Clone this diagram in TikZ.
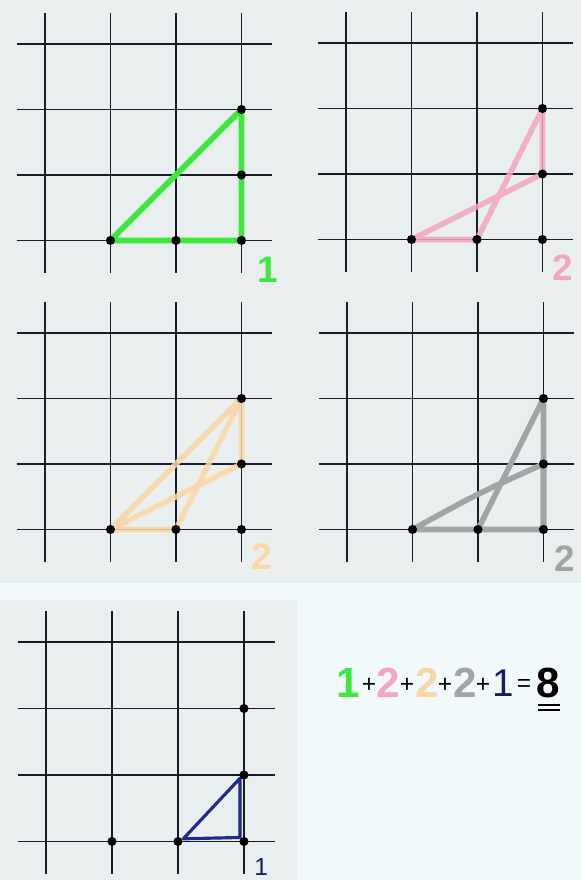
\documentclass[tikz,border=0pt]{standalone}
\usepackage{fontspec}
\setmainfont{Liberation Sans}
\usepackage{xcolor}
\definecolor{backdrop}{HTML}{F1F9FA}
\definecolor{paper}{HTML}{E9EFEF}
\definecolor{gridink}{HTML}{1A1A2A}
\definecolor{grn}{HTML}{3DE83D}
\definecolor{pnk}{HTML}{F4A6C0}
\definecolor{pch}{HTML}{FAD6A6}
\definecolor{gry}{HTML}{A4A4A6}
\definecolor{nvy}{HTML}{1E2A8C}
\definecolor{ink}{HTML}{14205E}

\tikzset{
  gridline/.style={line width=1pt, color=gridink},
  pen/.style={line width=3.2pt, line join=round, line cap=round},
  tally/.style={font=\bfseries\fontsize{21}{21}\selectfont, inner sep=0pt},
  sumdigit/.style={font=\bfseries\fontsize{24}{24}\selectfont, inner sep=0pt},
  plussign/.style={font=\fontsize{14}{14}\selectfont, inner sep=0pt},
}

\newcommand{\gridsheet}{%
  \foreach \k in {0,...,3} {
    \draw[gridline] (\k,-0.47) -- (\k,3.49);
    \draw[gridline] (-0.43,\k) -- (3.47,\k);
  }
  \coordinate (A) at (1,3);
  \coordinate (M) at (2,3);
  \coordinate (B) at (3,3);
  \coordinate (C) at (3,2);
  \coordinate (T) at (3,1);
}
\newcommand{\gridpoints}{%
  \foreach \p in {A,M,B,C,T} \fill (\p) circle[radius=2.6pt];
}

\begin{document}
\begin{tikzpicture}[x=0.02cm, y=-0.02cm]
    \fill[backdrop] (0,0) rectangle (581,880);
    \useasboundingbox (0,0) rectangle (581,880);
    \fill[paper] (0,0) rectangle (581,583);
    \fill[paper] (0,600) rectangle (297,880);

    % top left
    \begin{scope}[shift={(45,44)}, x=1.31cm, y=-1.31cm]
        \gridsheet
        \draw[pen, grn] (A) -- (T) -- (B) -- cycle;
        \gridpoints
        \node[tally, text=grn] (n1) at (3.4,3.45) {1};
    \end{scope}

    % top right
    \begin{scope}[shift={(346,43)}, x=1.31cm, y=-1.31cm]
        \gridsheet
        \draw[pen, pnk, opacity=0.85] (A) -- (M) -- (T) -- (C) -- cycle;
        \gridpoints
        \node[tally, text=pnk] (n2) at (3.31,3.43) {2};
    \end{scope}

    % middle left
    \begin{scope}[shift={(45,333)}, x=1.31cm, y=-1.31cm]
        \gridsheet
        \draw[pen, pch, opacity=0.85] (A) -- (T) -- (C) -- cycle;
        \draw[pen, pch, opacity=0.85] (A) -- (M) -- (T);
        \gridpoints
        \node[tally, text=pch] (n3) at (3.31,3.42) {2};
    \end{scope}

    % middle right
    \begin{scope}[shift={(347,333)}, x=1.31cm, y=-1.31cm]
        \gridsheet
        \draw[pen, gry] (A) .. controls (2,2.45) .. (C) -- (B) -- cycle;
        \draw[pen, gry] (M) -- (T) -- (B);
        \gridpoints
        \node[tally, text=gry] (n4) at (3.33,3.44) {2};
    \end{scope}

    % bottom left
    \begin{scope}[shift={(46,642)}, x=1.32cm, y=-1.33cm]
        \gridsheet
        \draw[line width=1.8pt, nvy, line join=round] ([shift={(0.08,-0.04)}]M) -- ([shift={(-0.06,0.05)}]C) -- ([shift={(-0.06,-0.06)}]B) -- cycle;
        \gridpoints
        \node[font=\fontsize{14}{14}\selectfont, inner sep=0pt, text=ink] (n5) at (3.26,3.38) {1};
    \end{scope}

    % the sum
    \node[sumdigit, text=grn] (s1) at (348,683) {1};
    \node[plussign] (p1) at (369,685) {+};
    \node[sumdigit, text=pnk] (s2) at (388,683) {2};
    \node[plussign] (p2) at (407,685) {+};
    \node[sumdigit, text=pch] (s3) at (427,683) {2};
    \node[plussign] (p3) at (445,685) {+};
    \node[sumdigit, text=gry] (s4) at (465,683) {2};
    \node[plussign] (p4) at (483,685) {+};
    \node[font=\fontsize{22}{22}\selectfont, inner sep=0pt, text=ink] (s5) at (503,683) {1};
    \node[plussign] (eq) at (524,685) {=};
    \node[sumdigit] (res) at (548,683) {8};
    \draw[line width=1pt] (538,705) -- (560,705);
    \draw[line width=1pt] (538,710) -- (560,710);
\end{tikzpicture}
\end{document}
